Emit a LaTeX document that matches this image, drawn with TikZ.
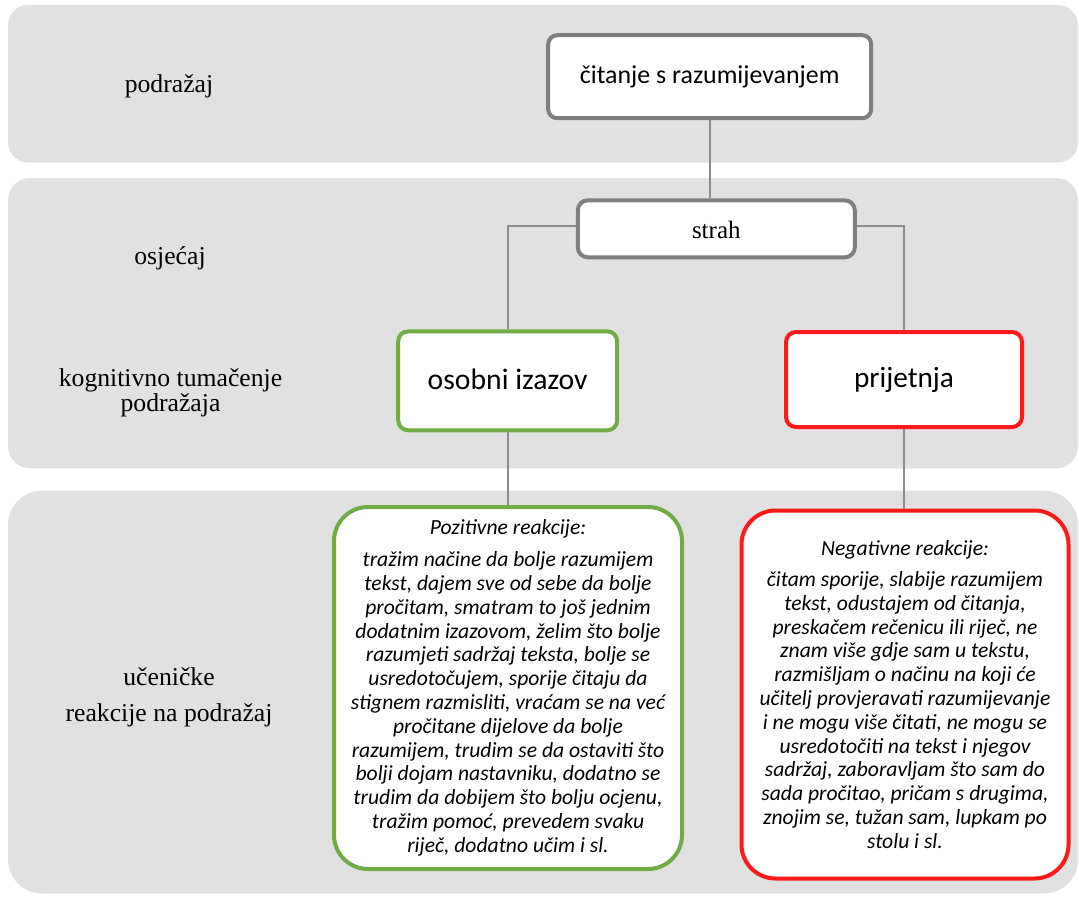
\documentclass[tikz,border=0pt]{standalone}
\usepackage{fontspec}
\setmainfont{Liberation Serif}
\newfontfamily\calfont{Carlito}
\definecolor{bandgray}{HTML}{E1E1E1}
\definecolor{boxgray}{HTML}{7F7F7F}
\definecolor{linegray}{HTML}{8C8C8C}
\definecolor{okgreen}{HTML}{70AD47}
\definecolor{badred}{HTML}{FF1A1A}
\tikzset{
  band/.style={fill=bandgray},
  basebox/.style={draw, fill=white, line width=4pt, inner sep=0pt, align=center},
  graybox/.style={basebox, draw=boxgray},
  greenbox/.style={basebox, draw=okgreen},
  redbox/.style={basebox, draw=badred},
  conn/.style={draw=linegray, line width=1.7pt},
  rowlabel/.style={font=\fontsize{25.7}{25}\selectfont, align=center, inner sep=0pt},
  reactext/.style={font=\calfont\itshape\fontsize{21.6}{23.8}\selectfont}
}
\begin{document}
\begin{tikzpicture}[x=1pt,y=-1pt]
\useasboundingbox (0,0) rectangle (1079,897);
% background bands
\fill[band, rounded corners=20pt] (8,5) rectangle (1078,162.5);
\fill[band, rounded corners=22pt] (8,178) rectangle (1078,468.3);
\fill[band, rounded corners=34pt] (8,490.7) rectangle (1078,893.5);

% row labels
\node[rowlabel, anchor=base] (l1) at (169,92) {podražaj};
\node[rowlabel, anchor=base] (l2) at (170,264.5) {osjećaj};
\node[rowlabel] (l3) at (170.5,392.5) {kognitivno tumačenje\\[0pt]podražaja};
\node[rowlabel] (l4) at (169,697.5) {učeničke\\[11pt]reakcije na podražaj};

% boxes
\node[graybox, rounded corners=9pt, minimum width=323pt, minimum height=83pt,
  font=\calfont\fontsize{25.9}{30}\selectfont, text height=13.2pt, text depth=0pt]
  (cit) at (709.7,76.7) {čitanje s razumijevanjem};
\node[graybox, rounded corners=10pt, minimum width=277pt, minimum height=57pt,
  font=\fontsize{25}{30}\selectfont, text height=19pt, text depth=0pt]
  (strah) at (716.3,228.8) {strah};
\node[greenbox, rounded corners=10pt, minimum width=219pt, minimum height=99pt,
  font=\calfont\fontsize{29.7}{34}\selectfont, text height=17pt, text depth=0pt]
  (osobni) at (507.7,380.8) {osobni izazov};
\node[redbox, rounded corners=10pt, minimum width=236pt, minimum height=95pt,
  font=\calfont\fontsize{29.3}{34}\selectfont, text height=15.6pt, text depth=0pt]
  (prij) at (904,379.5) {prijetnja};

\node[greenbox, rounded corners=34pt, minimum width=348pt, minimum height=362pt, reactext]
  (pos) at (508,688) {Pozitivne reakcije:\\[8pt]
tražim načine da bolje razumijem\\
tekst, dajem sve od sebe da bolje\\
pročitam, smatram to još jednim\\
dodatnim izazovom, želim što bolje\\
razumjeti sadržaj teksta, bolje se\\
usredotočujem, sporije čitaju da\\
stignem razmisliti, vraćam se na već\\
pročitane dijelove da bolje\\
razumijem, trudim se da ostaviti što\\
bolji dojam nastavniku, dodatno se\\
trudim da dobijem što bolju ocjenu,\\
tražim pomoć, prevedem svaku\\
riječ, dodatno učim i sl.};

\node[redbox, rounded corners=34pt, minimum width=327pt, minimum height=368pt, reactext]
  (neg) at (905,694.5) {Negativne reakcije:\\[7pt]
čitam sporije, slabije razumijem\\
tekst, odustajem od čitanja,\\
preskačem rečenicu ili riječ, ne\\
znam više gdje sam u tekstu,\\
razmišljam o načinu na koji će\\
učitelj provjeravati razumijevanje\\
i ne mogu više čitati, ne mogu se\\
usredotočiti na tekst i njegov\\
sadržaj, zaboravljam što sam do\\
sada pročitao, pričam s drugima,\\
znojim se, tužan sam, lupkam po\\
stolu i sl.};

% connectors
\draw[conn] (cit.south) -- (cit.south |- strah.north);
\draw[conn] ([yshift=3pt]strah.west) -| (osobni.north);
\draw[conn] ([yshift=3pt]strah.east) -| (prij.north);
\draw[conn] (osobni.south) -- (osobni.south |- pos.north);
\draw[conn] (prij.south) -- (prij.south |- neg.north);
\end{tikzpicture}
\end{document}
